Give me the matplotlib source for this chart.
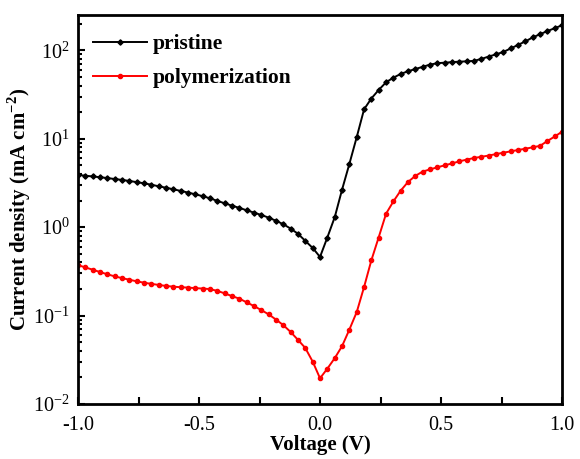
import numpy as np
import matplotlib
matplotlib.use("Agg")
import matplotlib.pyplot as plt
from matplotlib.ticker import LogLocator, MultipleLocator, NullFormatter

plt.rcParams['font.family'] = ['Liberation Serif', 'DejaVu Serif']
plt.rcParams['mathtext.fontset'] = 'custom'
plt.rcParams['mathtext.rm'] = 'Liberation Serif'
plt.rcParams['mathtext.bf'] = 'Liberation Serif:bold'

# voltage sweep (V)
voltage = [-1.000, -0.970, -0.939, -0.909, -0.879, -0.848, -0.818, -0.788, -0.758, -0.727,
           -0.697, -0.667, -0.636, -0.606, -0.576, -0.545, -0.515, -0.485, -0.455, -0.424,
           -0.394, -0.364, -0.333, -0.303, -0.273, -0.242, -0.212, -0.182, -0.152, -0.121,
           -0.091, -0.061, -0.030, 0.000, 0.030, 0.061, 0.091, 0.121, 0.152, 0.182,
           0.212, 0.242, 0.273, 0.303, 0.333, 0.364, 0.394, 0.424, 0.455, 0.485,
           0.515, 0.545, 0.576, 0.606, 0.636, 0.667, 0.697, 0.727, 0.758, 0.788,
           0.818, 0.848, 0.879, 0.909, 0.939, 0.970, 1.000]

# current density (mA cm-2)
pristine = [3.90, 3.82, 3.74, 3.67, 3.59, 3.50, 3.42, 3.33, 3.23, 3.13,
            3.02, 2.90, 2.79, 2.68, 2.57, 2.46, 2.35, 2.24, 2.12, 1.98,
            1.86, 1.75, 1.65, 1.55, 1.46, 1.37, 1.28, 1.18, 1.08, 0.96,
            0.84, 0.70, 0.58, 0.46, 0.76, 1.30, 2.65, 5.15, 10.5, 21.5,
            28.5, 35.5, 43.5, 49.0, 54.0, 58.0, 61.5, 65.0, 69.0, 71.5,
            72.5, 73.5, 74.5, 75.0, 76.0, 80.0, 85.0, 90.0, 96.0, 105.0,
            115.0, 126.0, 140.0, 152.0, 165.0, 178.0, 192.0]

polymerization = [0.372, 0.350, 0.330, 0.310, 0.293, 0.277, 0.265, 0.254, 0.244, 0.235,
                  0.228, 0.222, 0.216, 0.212, 0.209, 0.207, 0.204, 0.202, 0.199, 0.190,
                  0.178, 0.166, 0.155, 0.141, 0.128, 0.115, 0.103, 0.090, 0.078, 0.065,
                  0.053, 0.043, 0.030, 0.0195, 0.025, 0.033, 0.045, 0.069, 0.110, 0.21,
                  0.42, 0.76, 1.42, 1.95, 2.58, 3.25, 3.80, 4.25, 4.50, 4.75,
                  5.00, 5.25, 5.55, 5.80, 6.05, 6.25, 6.45, 6.70, 6.95, 7.20,
                  7.45, 7.70, 8.00, 8.30, 9.40, 10.6, 12.0]

fig = plt.figure(figsize=(5.8, 4.59), dpi=100)
ax = fig.add_axes([0.1345, 0.12, 0.8345, 0.847])

ax.plot(voltage, pristine, color='black', marker='D', markersize=2.7, linewidth=1.4, label='pristine')
ax.plot(voltage, polymerization, color='red', marker='o', markersize=3.0, linewidth=1.4, label='polymerization')

ax.set_yscale('log')
ax.set_xlim(-1.0, 1.0)
ax.set_ylim(1e-2, 250)
ax.xaxis.set_major_locator(MultipleLocator(0.5))
ax.xaxis.set_minor_locator(MultipleLocator(0.25))
ax.yaxis.set_minor_locator(LogLocator(base=10, subs=np.arange(2, 10)))
ax.yaxis.set_minor_formatter(NullFormatter())
ax.xaxis.set_major_formatter(matplotlib.ticker.FormatStrFormatter('%.1f'))

ax.tick_params(which='both', direction='in', top=False, right=False, labelsize=14.5, width=1.5)
ax.tick_params(which='major', length=5)
ax.tick_params(which='minor', length=3)
ax.tick_params(axis='x', which='minor', length=5)
ax.tick_params(axis='x', pad=9)
ax.tick_params(axis='y', pad=6)
for spine in ax.spines.values():
    spine.set_linewidth(2)

ax.set_xlabel('Voltage (V)', fontsize=15, fontweight='bold', labelpad=0)
ax.set_ylabel(r'Current density (mA cm$^{\mathbf{-2}}$)', fontsize=15, fontweight='bold')
ax.yaxis.set_label_coords(-0.094, 0.5)

ax.legend(loc='upper left', frameon=False, prop={'weight': 'bold', 'size': 15.5},
          handlelength=2.5, handletextpad=0.25, labelspacing=0.65,
          borderaxespad=0.3, bbox_to_anchor=(0.0, 0.99))

fig.savefig('out.png', dpi=100)
